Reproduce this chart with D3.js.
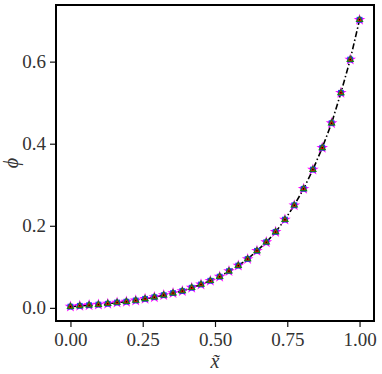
<!DOCTYPE html>
<meta charset="utf-8">
<style>
body { margin: 0; background: #fff; }
text { font-family: "Liberation Serif", "DejaVu Serif", serif; fill: #333; }
</style>
<body>
<svg id="chart" width="382" height="374"></svg>
<script src="https://d3js.org/d3.v7.min.js"></script>
<script>

// x = i/31
var xs = d3.range(32).map(function(i) { return i / 31; });
var phi = [0.003, 0.005, 0.0065, 0.008, 0.010, 0.013, 0.015, 0.018,
           0.022, 0.026, 0.031, 0.036, 0.041, 0.049, 0.057, 0.066,
           0.076, 0.0895, 0.103, 0.119, 0.139, 0.160, 0.185, 0.215,
           0.250, 0.290, 0.337, 0.390, 0.450, 0.524, 0.605, 0.702];
var xTicks = [0, 0.25, 0.5, 0.75, 1.0];
var yTicks = [0, 0.2, 0.4, 0.6];

var svg = d3.select("#chart"),
    mLeft = 56, mRight = 374, mTop = 5, mBottom = 321;

var data = xs.map(function(x, i) { return {x: x, y: phi[i]}; });

var x = d3.scaleLinear().domain([-0.05, 1.05]).range([mLeft, mRight]),
    y = d3.scaleLinear().domain([-0.032, 0.738]).range([mBottom, mTop]);

// axes
var xAxis = svg.append("g")
    .attr("transform", "translate(0," + mBottom + ")")
    .call(d3.axisBottom(x).tickValues(xTicks).tickSize(6).tickPadding(6)
      .tickFormat(d3.format(".2f")));
var yAxis = svg.append("g")
    .attr("transform", "translate(" + mLeft + ",0)")
    .call(d3.axisLeft(y).tickValues(yTicks).tickSize(6).tickPadding(4)
      .tickFormat(d3.format(".1f")));

[xAxis, yAxis].forEach(function(a) {
  a.select(".domain").remove();
  a.selectAll(".tick line").attr("stroke", "#111").attr("stroke-width", 1.2);
  a.selectAll(".tick text").attr("font-size", 19).attr("fill", "#333")
    .style("font-family", "'Liberation Serif', serif");
});

// line
var line = d3.line()
    .x(function(d) { return x(d.x); })
    .y(function(d) { return y(d.y); });

svg.append("path")
    .datum(data)
    .attr("d", line)
    .attr("fill", "none")
    .attr("stroke", "#000")
    .attr("stroke-width", 1.6)
    .attr("stroke-dasharray", "6,2.5,1.5,2.5");

// markers, stacked
var layers = [
  {type: d3.symbolStar, size: 42, color: "#ff00ff"},
  {type: d3.symbolSquare, size: 34, color: "#3030ff"},
  {type: d3.symbolTriangle, size: 28, color: "#1a7a1a"},
  {type: d3.symbolTriangle, size: 7, color: "#ff0000"},
  {type: d3.symbolCircle, size: 2, color: "#000"}
];

layers.forEach(function(l) {
  svg.append("g").selectAll("path")
      .data(data)
    .enter().append("path")
      .attr("transform", function(d) { return "translate(" + x(d.x) + "," + y(d.y) + ")"; })
      .attr("d", d3.symbol().type(l.type).size(l.size))
      .attr("fill", l.color);
});

// frame
svg.append("rect")
    .attr("x", mLeft).attr("y", mTop)
    .attr("width", mRight - mLeft).attr("height", mBottom - mTop)
    .attr("fill", "none")
    .attr("stroke", "#000")
    .attr("stroke-width", 2);

// labels
svg.append("text")
    .attr("x", (mLeft + mRight) / 2)
    .attr("y", 368)
    .attr("text-anchor", "middle")
    .attr("font-size", 20)
    .attr("font-style", "italic")
    .text("x\u0303");

svg.append("text")
    .attr("transform", "translate(18," + (mTop + mBottom) / 2 + ") rotate(-90)")
    .attr("text-anchor", "middle")
    .attr("font-size", 20)
    .attr("font-style", "italic")
    .text("\u03d5");

</script>
</body>
